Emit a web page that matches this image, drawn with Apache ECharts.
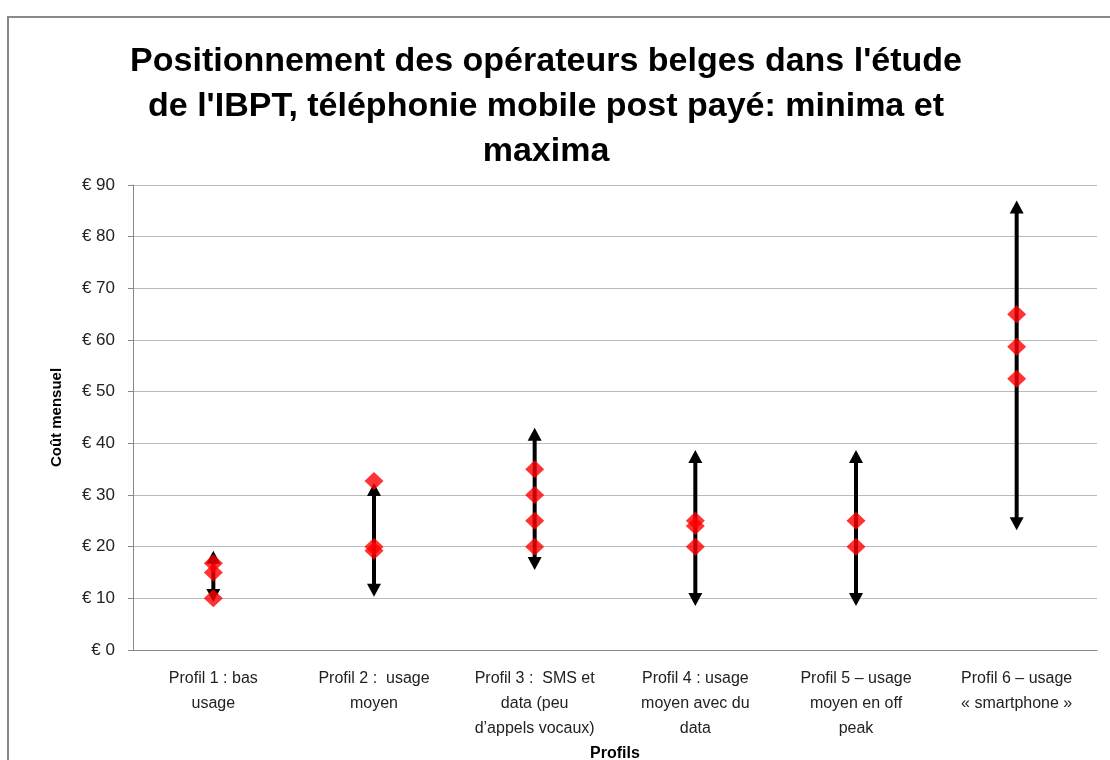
<!DOCTYPE html>
<html>
<head>
<meta charset="utf-8">
<script src="https://cdn.jsdelivr.net/npm/echarts@6/dist/echarts.min.js"></script>
<style>
  html, body { margin: 0; padding: 0; background: #fff; }
</style>
</head>
<body>
<div id="main" style="width: 1110px; height: 760px"></div>
<script>
// profils (axe x)
var categories = [
  'Profil 1 : bas\nusage',
  'Profil 2 :  usage\nmoyen',
  'Profil 3 :  SMS et\ndata (peu\nd\u2019appels vocaux)',
  'Profil 4 : usage\nmoyen avec du\ndata',
  'Profil 5 \u2013 usage\nmoyen en off\npeak',
  'Profil 6 \u2013 usage\n\u00ab smartphone \u00bb'
];
// minima / maxima (flèches)
var minima = [9.3, 10.3, 15.5, 8.5, 8.5, 23.2];
var maxima = [19.2, 32.3, 43, 38.7, 38.7, 87];
// positions des opérateurs (losanges rouges)
var operateurs = [
  [10, 15, 16.8],
  [19.2, 20, 32.7],
  [20, 25, 30, 35],
  [20, 24, 25],
  [20, 25],
  [52.5, 58.7, 65]
];
var yTicks = [0, 10, 20, 30, 40, 50, 60, 70, 80, 90];

var arrowData = categories.map(function (c, i) { return [i, minima[i], maxima[i]]; });
var pointData = [];
operateurs.forEach(function (vals, i) {
  vals.forEach(function (v) { pointData.push([i, v]); });
});

var chart = echarts.init(document.getElementById('main'));
var option = {
  backgroundColor: '#fff',
  animation: false,
  title: {
    text: "Positionnement des op\u00e9rateurs belges dans l'\u00e9tude\nde l'IBPT, t\u00e9l\u00e9phonie mobile post pay\u00e9: minima et\nmaxima",
    left: 541,
    top: 34,
    textAlign: 'center',
    textStyle: {
      fontFamily: 'Liberation Sans',
      fontWeight: 'bold',
      fontSize: 34,
      lineHeight: 45,
      color: '#000'
    }
  },
  graphic: [{
    type: 'polyline',
    shape: { points: [[8, 760], [8, 17], [1110, 17]] },
    style: { stroke: '#888', lineWidth: 2, fill: null }
  }],
  grid: { left: 133, right: 13, top: 185, bottom: 110, outerBoundsMode: 'none' },
  xAxis: {
    type: 'category',
    data: categories,
    name: 'Profils',
    nameLocation: 'middle',
    nameGap: 90,
    nameTextStyle: { fontFamily: 'Liberation Sans', fontWeight: 'bold', fontSize: 16, color: '#000' },
    axisLine: { lineStyle: { color: '#888' } },
    axisTick: { show: false },
    axisLabel: {
      interval: 0,
      fontFamily: 'Liberation Sans',
      fontSize: 16,
      lineHeight: 25,
      color: '#222',
      margin: 16
    }
  },
  yAxis: {
    type: 'value',
    min: yTicks[0],
    max: yTicks[yTicks.length - 1],
    interval: 10,
    name: 'Co\u00fbt mensuel',
    nameLocation: 'middle',
    nameGap: 69,
    nameRotate: 90,
    nameTextStyle: { fontFamily: 'Liberation Sans', fontWeight: 'bold', fontSize: 15, color: '#000' },
    axisLine: { show: true, lineStyle: { color: '#888' } },
    axisTick: { show: true, length: 5, lineStyle: { color: '#888' } },
    splitLine: { lineStyle: { color: '#bbb', width: 1 } },
    axisLabel: {
      fontFamily: 'Liberation Sans',
      fontSize: 17,
      color: '#222',
      margin: 18,
      formatter: function (v) { return '\u20ac ' + v; }
    }
  },
  series: [
    {
      type: 'custom',
      data: arrowData,
      z: 2,
      renderItem: function (params, api) {
        var x = api.coord([api.value(0), 0])[0];
        var yLo = api.coord([api.value(0), api.value(1)])[1];
        var yHi = api.coord([api.value(0), api.value(2)])[1];
        var hw = 7, hh = 13;
        return {
          type: 'group',
          children: [
            {
              type: 'line',
              shape: { x1: x, y1: yHi + hh - 2, x2: x, y2: yLo - hh + 2 },
              style: { stroke: '#000', lineWidth: 4 }
            },
            {
              type: 'polygon',
              shape: { points: [[x, yHi], [x - hw, yHi + hh], [x + hw, yHi + hh]] },
              style: { fill: '#000' }
            },
            {
              type: 'polygon',
              shape: { points: [[x, yLo], [x - hw, yLo - hh], [x + hw, yLo - hh]] },
              style: { fill: '#000' }
            }
          ]
        };
      }
    },
    {
      type: 'scatter',
      data: pointData,
      z: 3,
      symbol: 'diamond',
      symbolSize: [19, 18],
      itemStyle: { color: '#ff0000' }
    }
  ]
};
chart.setOption(option);
</script>
</body>
</html>
